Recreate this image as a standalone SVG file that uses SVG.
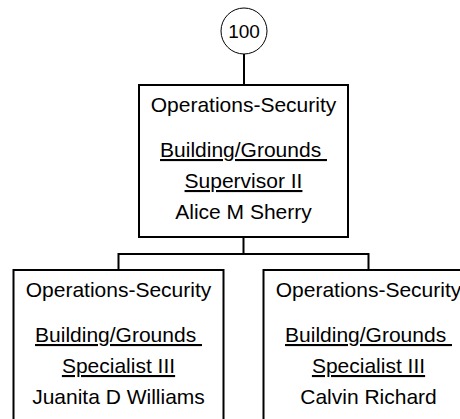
<svg xmlns="http://www.w3.org/2000/svg" width="460" height="419" viewBox="0 0 460 419">
<style>
.box{fill:#fff;stroke:#000;stroke-width:2}
.t{font-family:"Liberation Sans",Arial,sans-serif;font-size:21px;fill:#000;text-anchor:middle}
.u{text-decoration:underline;white-space:pre}
.conn{fill:none;stroke:#000;stroke-width:2}
</style>
<rect width="460" height="419" fill="#fff"/>
<g id="connectors">
<line class="conn" x1="244" y1="54" x2="244" y2="85"/>
<path class="conn" d="M243.5 237V254M118.5 270V254H368.5V270"/>
</g>
<g id="badge">
<circle cx="244" cy="31" r="23" fill="#fff" stroke="#000" stroke-width="1"/>
<text class="t" x="244" y="38" style="font-size:19px">100</text>
</g>
<g id="n-alice">
<rect class="box" x="139" y="85" width="209" height="152"/>
<text class="t" x="243.5" y="112">Operations-Security</text>
<text class="t u" x="243.5" y="157" xml:space="preserve">Building/Grounds </text>
<text class="t u" x="243.5" y="188">Supervisor II</text>
<text class="t" x="243.5" y="219">Alice M Sherry</text>
</g>
<g id="n-juanita">
<rect class="box" x="13.5" y="270" width="210" height="160"/>
<text class="t" x="118.5" y="297">Operations-Security</text>
<text class="t u" x="118.5" y="342" xml:space="preserve">Building/Grounds </text>
<text class="t u" x="118.5" y="373">Specialist III</text>
<text class="t" x="118.5" y="404">Juanita D Williams</text>
</g>
<g id="n-calvin">
<rect class="box" x="263.5" y="270" width="210" height="160"/>
<text class="t" x="368.5" y="297">Operations-Security</text>
<text class="t u" x="368.5" y="342" xml:space="preserve">Building/Grounds </text>
<text class="t u" x="368.5" y="373">Specialist III</text>
<text class="t" x="368.5" y="404">Calvin Richard</text>
</g>
</svg>
